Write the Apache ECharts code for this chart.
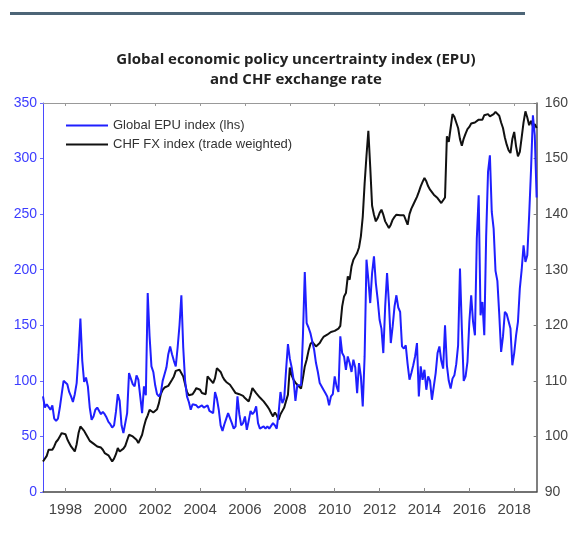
<!DOCTYPE html>
<html>
<head>
<meta charset="utf-8">
<script src="https://cdn.jsdelivr.net/npm/echarts@6/dist/echarts.min.js"></script>
<style>
html,body{margin:0;padding:0;background:#fff;}
#chart{width:571px;height:540px;}
</style>
</head>
<body>
<div id="chart"></div>
<script>
// Monthly data, Jan 1997 .. Jan 2019
const startYear = 1997;
const epuIndex = [
  // 1997
  86, 76, 79, 80, 74, 78, 66, 64, 66, 76, 88, 100,
  // 1998
  101, 97, 90, 86, 81, 88, 98, 124, 156, 118, 99, 103,
  // 1999
  95, 76, 65, 68, 74, 76, 75, 70, 72, 70, 67, 63,
  // 2000
  61, 58, 60, 72, 88, 82, 60, 53, 62, 71, 107, 102,
  // 2001
  97, 95, 105, 101, 86, 71, 95, 87, 179, 140, 113, 108,
  // 2002
  96, 88, 86, 89, 100, 106, 112, 124, 131, 124, 118, 113,
  // 2003
  130, 150, 177, 130, 100, 86, 81, 74, 79, 78, 78, 76,
  // 2004
  77, 78, 76, 77, 78, 73, 72, 71, 90, 84, 74, 60,
  // 2005
  55, 61, 66, 71, 70, 62, 57, 59, 86, 70, 60, 62,
  // 2006
  68, 56, 64, 73, 70, 72, 77, 62, 57, 57, 59, 57,
  // 2007
  59, 57, 56, 62, 60, 57, 71, 90, 80, 84, 110, 133,
  // 2008
  120, 112, 101, 82, 96, 96, 96, 140, 198, 152, 148, 143,
  // 2009
  143, 128, 116, 108, 98, 97, 92, 89, 86, 78, 86, 88,
  // 2010
  104, 95, 90, 140, 125, 122, 110, 122, 116, 108, 119, 112,
  // 2011
  89, 116, 104, 77, 122, 209, 191, 170, 197, 212, 188, 173,
  // 2012
  155, 147, 125, 167, 197, 170, 134, 149, 167, 177, 166, 162,
  // 2013
  131, 129, 132, 115, 101, 107, 114, 122, 134, 86, 113, 101,
  // 2014
  110, 92, 104, 100, 83, 95, 107, 125, 131, 118, 111, 150,
  // 2015
  114, 100, 93, 102, 105, 115, 132, 201, 147, 100, 104, 117,
  // 2016
  153, 177, 153, 141, 228, 267, 159, 171, 141, 230, 288, 303,
  // 2017
  252, 237, 199, 190, 160, 126, 140, 162, 160, 159, 147, 114,
  // 2018
  125, 141, 153, 183, 200, 222, 207, 213, 249, 290, 339, 321,
  // 2019
  265
];
const chfIndex = [
  // 1997
  95.5, 95.7, 96.5, 97.6, 97.8, 97.6, 98.2, 99.0, 99.4, 100.0, 100.6, 100.6,
  // 1998
  100.4, 99.5, 98.8, 98.2, 98.2, 97.3, 98.6, 100.6, 101.8, 101.5, 101.0, 100.4,
  // 1999
  99.8, 99.2, 99.0, 98.7, 98.4, 98.2, 98.2, 98.0, 97.6, 97.0, 96.8, 96.6,
  // 2000
  96.3, 95.5, 96.0, 96.8, 97.9, 97.3, 97.5, 97.8, 98.3, 98.5, 100.3, 100.0,
  // 2001
  100.0, 100.1, 99.4, 98.8, 99.0, 100.3, 101.8, 103.0, 103.8, 104.8, 104.8, 104.3,
  // 2002
  104.3, 104.9, 106.0, 107.6, 108.4, 108.8, 109.0, 109.1, 109.4, 110.2, 110.8, 111.8,
  // 2003
  112.0, 112.0, 112.0, 110.8, 109.4, 108.0, 107.4, 107.2, 107.6, 108.1, 108.7, 108.6,
  // 2004
  108.4, 107.8, 107.5, 107.6, 110.8, 110.5, 110.0, 109.6, 110.5, 112.3, 112.0, 111.6,
  // 2005
  110.8, 110.2, 109.8, 109.6, 109.3, 108.8, 108.5, 107.8, 107.9, 107.6, 107.5, 107.3,
  // 2006
  106.9, 106.6, 106.3, 107.4, 108.7, 108.4, 107.8, 107.5, 107.0, 106.7, 106.3, 106.0,
  // 2007
  105.4, 104.9, 104.2, 103.6, 104.3, 103.8, 103.0, 104.0, 104.6, 105.2, 106.4, 107.5,
  // 2008
  112.4, 111.0, 110.2, 109.7, 109.3, 109.0, 108.6, 110.5, 112.6, 113.8, 115.4, 116.6,
  // 2009
  117.0, 116.6, 116.2, 116.5, 116.8, 117.4, 117.9, 118.0, 118.3, 118.6, 118.8, 118.9,
  // 2010
  119.0, 119.2, 119.4, 119.9, 123.4, 125.2, 125.8, 128.8, 128.2, 130.6, 131.8, 132.4,
  // 2011
  133.0, 134.0, 136.0, 139.5, 145.5, 150.5, 155.0, 148.5, 141.5, 139.9, 138.7, 139.3,
  // 2012
  140.2, 140.8, 139.9, 138.7, 138.4, 137.5, 138.1, 139.0, 139.5, 139.9, 139.6, 139.8,
  // 2013
  139.9, 139.8, 139.6, 138.1, 140.0, 141.0, 141.7, 142.4, 143.1, 144.0, 145.0, 145.8,
  // 2014
  146.5, 145.9, 145.0, 144.4, 144.1, 143.5, 143.2, 142.9, 142.6, 142.0, 142.3, 143.0,
  // 2015
  154.0, 153.0, 155.5, 158.0, 157.5, 156.5, 155.5, 153.5, 152.3, 153.6, 154.5, 155.3,
  // 2016
  155.7, 156.3, 156.0, 156.5, 156.8, 157.0, 157.3, 157.0, 157.8, 157.5, 158.0, 157.6,
  // 2017
  157.8, 158.0, 158.4, 158.6, 157.7, 156.5, 155.5, 153.8, 152.5, 151.5, 151.0, 153.5,
  // 2018
  154.8, 152.2, 150.4, 151.2, 153.8, 156.5, 158.5, 157.4, 156.0, 156.8, 155.8, 156.2,
  // 2019
  155.5
];
const yearTicks = [1998, 2000, 2002, 2004, 2006, 2008, 2010, 2012, 2014, 2016, 2018];
const titleLines = ['Global economic policy uncertrainty index (EPU)', 'and CHF exchange rate'];
const seriesNames = ['Global EPU index (lhs)', 'CHF FX index (trade weighted)'];

const toPairs = arr => arr.map((v, i) => [startYear + i / 12, v]);

const chart = echarts.init(document.getElementById('chart'), null, {renderer: 'canvas'});
const xCommon = {
  type: 'value', min: 1997, max: 2019,
  splitLine: {show: false}
};
chart.setOption({
  animation: false,
  backgroundColor: '#ffffff',
  title: {
    text: titleLines.join('\n'),
    left: 291, top: 45, textAlign: 'center',
    textStyle: {fontFamily: 'Open Sans', fontWeight: 'bold', fontSize: 15, color: '#222', lineHeight: 20}
  },
  graphic: [{
    type: 'rect', shape: {x: 10, y: 12, width: 515, height: 3},
    style: {fill: '#4d6577'}
  }],
  legend: {
    orient: 'vertical', left: 61, top: 114,
    itemWidth: 42, itemHeight: 2, itemGap: 6,
    icon: 'rect',
    data: [
      {name: seriesNames[0], itemStyle: {color: '#1f1fff'}},
      {name: seriesNames[1], itemStyle: {color: '#111111'}}
    ],
    textStyle: {fontFamily: 'Liberation Sans', fontSize: 13, color: '#333'}
  },
  grid: {left: 43, right: 33, top: 103, bottom: 48, containLabel: false},
  xAxis: [
    Object.assign({}, xCommon, {
      position: 'bottom',
      axisLine: {lineStyle: {color: '#444', width: 1.5}},
      axisTick: {inside: true, length: 4, customValues: yearTicks, lineStyle: {color: '#888'}},
      axisLabel: {customValues: yearTicks, formatter: v => String(Math.round(v)), fontFamily: 'Liberation Sans', fontSize: 15, color: '#444', margin: 10}
    }),
    Object.assign({}, xCommon, {
      position: 'top',
      axisLine: {lineStyle: {color: '#999', width: 1}},
      axisTick: {inside: true, length: 3, customValues: yearTicks, lineStyle: {color: '#999'}},
      axisLabel: {show: false}
    })
  ],
  yAxis: [
    {
      type: 'value', min: 0, max: 350, interval: 50, position: 'left',
      splitLine: {show: false},
      axisLine: {show: true, lineStyle: {color: '#4a4aff', width: 1}},
      axisTick: {show: true, inside: false, length: 3, lineStyle: {color: '#6a6aff'}},
      axisLabel: {fontFamily: 'Liberation Sans', fontSize: 14, color: '#3c3cff', margin: 6}
    },
    {
      type: 'value', min: 90, max: 160, interval: 10, position: 'right',
      splitLine: {show: false},
      axisLine: {show: true, lineStyle: {color: '#555', width: 1.5}},
      axisTick: {show: true, inside: true, length: 3, lineStyle: {color: '#777'}},
      axisLabel: {fontFamily: 'Liberation Sans', fontSize: 14, color: '#444', margin: 8}
    }
  ],
  series: [
    {
      name: seriesNames[1], type: 'line', xAxisIndex: 0, yAxisIndex: 1,
      data: toPairs(chfIndex), showSymbol: false, symbol: 'none',
      lineStyle: {color: '#111111', width: 2}, itemStyle: {color: '#111111'}, z: 2
    },
    {
      name: seriesNames[0], type: 'line', xAxisIndex: 0, yAxisIndex: 0,
      data: toPairs(epuIndex), showSymbol: false, symbol: 'none',
      lineStyle: {color: '#1f1fff', width: 2}, itemStyle: {color: '#1f1fff'}, z: 3
    }
  ]
});
</script>
</body>
</html>
